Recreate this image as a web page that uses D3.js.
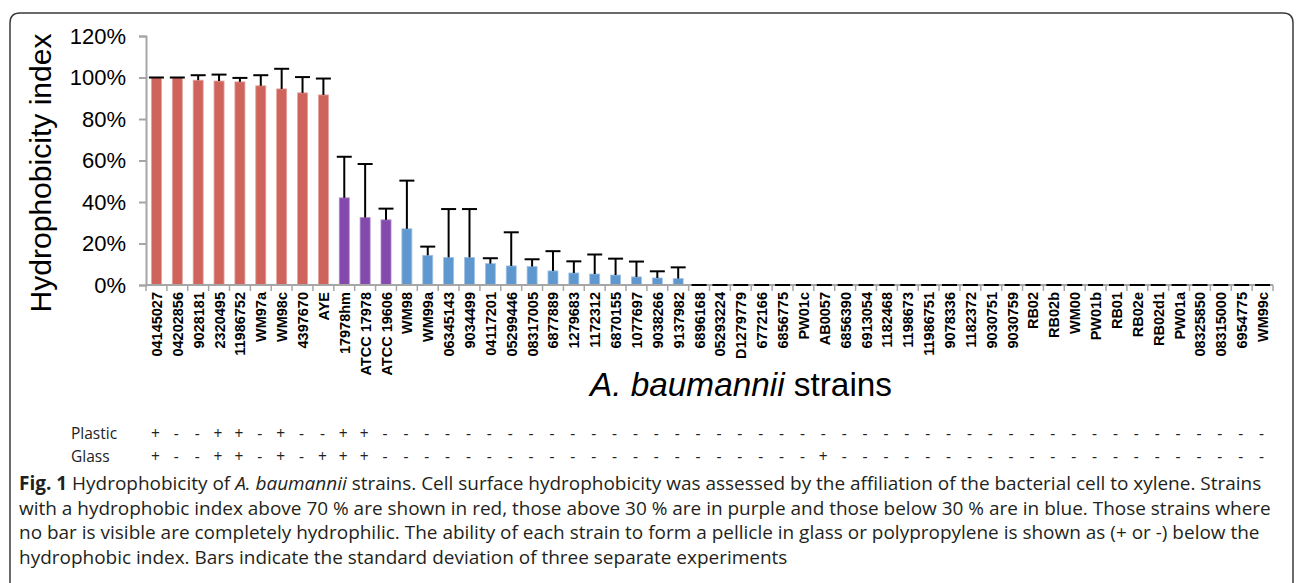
<!DOCTYPE html>
<html><head><meta charset="utf-8">
<script src="https://cdn.jsdelivr.net/npm/d3@7"></script>
<style>
html,body{margin:0;padding:0;background:#fff;}
svg{display:block;}
</style></head>
<body>
<svg id="chart" width="1296" height="583"></svg>
<script>
const strains = ["04145027","04202856","9028181","2320495","11986752","WM97a","WM98c","4397670","AYE",
 "17978hm","ATCC 17978","ATCC 19606",
 "WM98","WM99a","06345143","9034499","04117201","05299446","08317005","6877889","1279683","1172312","6870155","1077697","9038266","9137982",
 "6896168","05293224","D1279779","6772166","6856775","PW01c","AB0057","6856390","6913054","1182468","1198673","11986751","9078336","1182372","9030751","9030759","RB02","RB02b","WM00","PW01b","RB01","RB02e","RB02d1","PW01a","08325850","08315000","6954775","WM99c"];
const hydro = [100,100,98.7,98.3,97.9,96.0,94.5,92.6,91.6,
 42.0,32.5,31.4,
 27.1,14.3,13.3,13.3,10.3,9.2,8.9,6.8,5.8,5.3,4.8,3.9,3.4,3.1,
 0,0,0,0,0,0,0,0,0,0,0,0,0,0,0,0,0,0,0,0,0,0,0,0,0,0,0,0];
const sdev = [0,0,2.4,3.1,1.9,5.1,9.7,7.6,7.9,
 19.8,25.8,5.4,
 23.2,4.2,23.3,23.3,2.6,16.2,3.5,9.5,5.6,9.4,7.9,7.4,3.2,5.4,
 0,0,0,0,0,0,0,0,0,0,0,0,0,0,0,0,0,0,0,0,0,0,0,0,0,0,0,0];
const groupOf = strains.map((s,i)=> hydro[i] > 70 ? "high" : (hydro[i] > 30 ? "mid" : "low"));
const plasticPos = [1,4,5,7,10,11];          // 1-based strain indices with "+"
const glassPos = [1,4,5,7,9,10,11,33];
const yTicks = [0,20,40,60,80,100,120];
const captionLines = [
 [["Fig. 1","bold"],[" Hydrophobicity of ",""],["A. baumannii","italic"],[" strains. Cell surface hydrophobicity was assessed by the affiliation of the bacterial cell to xylene. Strains",""]],
 [["with a hydrophobic index above 70 % are shown in red, those above 30 % are in purple and those below 30 % are in blue. Those strains where",""]],
 [["no bar is visible are completely hydrophilic. The ability of each strain to form a pellicle in glass or polypropylene is shown as (+ or -) below the",""]],
 [["hydrophobic index. Bars indicate the standard deviation of three separate experiments",""]]
];

const colors = {high:"#cf645c", mid:"#8449ad", low:"#5f98cf"};
const edge = {high:"#e3a39e", mid:"#b08fcb", low:"#a3c3e6"};
const svg = d3.select("#chart");

// frame
svg.append("path")
  .attr("d","M10,600 L10,23 Q10,13 20,13 L1283,13 Q1293,13 1293,23 L1293,600")
  .attr("fill","none").attr("stroke","#3a3a3a").attr("stroke-width",1.5);

const x = d3.scaleBand().domain(strains).range([146,1273]).paddingInner(0.52).paddingOuter(0.26);
const y = d3.scaleLinear().domain([0,120]).range([285,36]);
const AR = "Liberation Sans, Arial, sans-serif";

// y axis
const ya = svg.append("g").attr("transform","translate(146,0)")
  .call(d3.axisLeft(y).tickValues(yTicks).tickFormat(d=>d+"%").tickSize(7).tickSizeOuter(7).tickPadding(13));
ya.selectAll("path,line").attr("stroke","#a6a6a6").attr("stroke-width",2);
ya.selectAll("text").attr("font-family",AR).attr("font-size",22).attr("fill","#000");

// bars
svg.append("g").selectAll("rect").data(strains).join("rect")
  .attr("x",d=>x(d)).attr("width",x.bandwidth())
  .attr("y",(d,i)=>y(hydro[i])).attr("height",(d,i)=>y(0)-y(hydro[i]))
  .attr("fill",(d,i)=>colors[groupOf[i]])
  .attr("stroke",(d,i)=>edge[groupOf[i]]).attr("stroke-width",(d,i)=>hydro[i]>0?0.8:0);

// x axis line and ticks
const step = x.step();
const x0 = x.range()[0];
svg.append("line").attr("x1",x0).attr("x2",x.range()[1]).attr("y1",y(0)).attr("y2",y(0))
  .attr("stroke","#a6a6a6").attr("stroke-width",2);
svg.append("g").selectAll("line").data(d3.range(strains.length+1)).join("line")
  .attr("x1",i=>x0+i*step).attr("x2",i=>x0+i*step).attr("y1",y(0)).attr("y2",y(0)+6)
  .attr("stroke","#a6a6a6").attr("stroke-width",1.5);

// error bars (plus only)
const eb = svg.append("g").attr("stroke","#000").attr("stroke-width",2);
strains.forEach((s,i)=>{
  const cx = x(s)+x.bandwidth()/2;
  const top = y(hydro[i]+sdev[i]);
  eb.append("line").attr("x1",cx).attr("x2",cx).attr("y1",y(hydro[i])).attr("y2",top);
  eb.append("line").attr("x1",cx-7.5).attr("x2",cx+7.5).attr("y1",top).attr("y2",top);
});

// x labels
svg.append("g").selectAll("text").data(strains).join("text")
  .attr("transform",d=>`translate(${x(d)+x.bandwidth()/2+5.5},292) rotate(-90)`)
  .attr("text-anchor","end").attr("font-family",AR).attr("font-weight","bold")
  .attr("font-size",14.5).attr("fill","#000").text(d=>d);

function fit(sel, w){
  const l = sel.node().getComputedTextLength();
  const fs = parseFloat(sel.attr("font-size"));
  sel.attr("font-size", fs*w/l);
}

// y title
const yt = svg.append("text").attr("transform","translate(51,173) rotate(-90)")
  .attr("text-anchor","middle").attr("font-family",AR).attr("font-size",30).attr("fill","#000")
  .text("Hydrophobicity index");
fit(yt,279);

// x title
const xt = svg.append("text").attr("x",741).attr("y",396).attr("text-anchor","middle")
  .attr("font-family",AR).attr("font-size",30).attr("fill","#000");
xt.append("tspan").attr("font-style","italic").text("A. baumannii");
xt.append("tspan").text(" strains");
fit(xt,302);

// Plastic / Glass rows
const OS = "Open Sans, Noto Sans, sans-serif";
[["Plastic",plasticPos,439],["Glass",glassPos,462]].forEach(([lab,pos,yy])=>{
  svg.append("text").attr("x",71).attr("y",yy).attr("font-family",OS).attr("font-size",15.5).attr("fill","#222").text(lab);
  svg.append("g").selectAll("text").data(strains).join("text")
    .attr("x",d=>x(d)+x.bandwidth()/2-1).attr("y",yy).attr("text-anchor","middle")
    .attr("font-family",OS).attr("font-size",15.5).attr("fill","#222")
    .text((d,i)=>pos.includes(i+1)?"+":"-");
});

// caption
const cap = svg.append("g");
const baselines = [490,514.5,539,563.5];
let capSize = 16.5;
captionLines.forEach((parts,li)=>{
  const t = cap.append("text").attr("x",19).attr("y",baselines[li]).attr("font-family",OS).attr("font-size",capSize).attr("fill","#231f20");
  parts.forEach(([str,st])=>{
    const ts = t.append("tspan").text(str);
    if(st==="bold") ts.attr("font-weight","bold");
    if(st==="italic") ts.attr("font-style","italic");
  });
});
const first = cap.select("text");
const l1 = first.node().getComputedTextLength();
capSize = capSize*1243/l1;
cap.selectAll("text").attr("font-size",capSize);
</script>
</body></html>
